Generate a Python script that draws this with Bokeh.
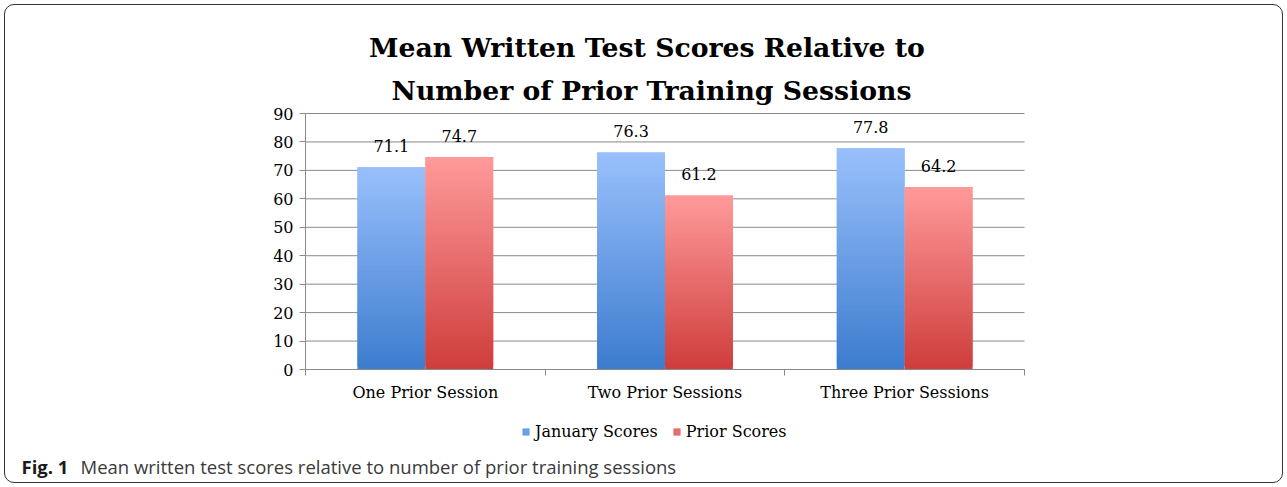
import numpy as np
from bokeh.plotting import figure
from bokeh.models import Range1d, FixedTicker, Label, Legend, LegendItem
from bokeh.core.properties import value
from bokeh.embed import file_html
from bokeh.resources import INLINE

# ---- data ----
categories = ["One Prior Session", "Two Prior Sessions", "Three Prior Sessions"]
january = [71.1, 76.3, 77.8]
prior = [74.7, 61.2, 64.2]
series_names = ["January Scores", "Prior Scores"]
y_ticks = [0, 10, 20, 30, 40, 50, 60, 70, 80, 90]
title_lines = ["Mean Written Test  Scores Relative to", "Number of Prior Training Sessions"]
caption_bold = "Fig. 1"
caption_text = "Mean written test scores relative to number of prior training sessions"

# ---- style / layout (pixels) ----
SERIF = "DejaVu Serif"
SANS = "Open Sans"
W, H = 1287, 487
PX_L, PX_R, PX_T, PX_B = 305, 1024, 113, 369     # plot area in canvas pixels
BLUE_TOP, BLUE_BOT = (153, 192, 252), (60, 124, 206)
RED_TOP, RED_BOT = (255, 154, 154), (206, 61, 59)
GRID = "#8a8a8a"

n = len(categories)
Y0, Y1 = y_ticks[0], y_ticks[-1]
sx_ = (PX_R - PX_L) / n
sy_ = (PX_B - PX_T) / (Y1 - Y0)
x_range = Range1d(-PX_L / sx_, n + (W - PX_R) / sx_)
y_range = Range1d(Y0 - (H - PX_B) / sy_, Y1 + PX_T / sy_)

p = figure(width=W, height=H, output_backend="svg", toolbar_location=None,
           x_range=x_range, y_range=y_range,
           min_border_left=0, min_border_right=0, min_border_top=0, min_border_bottom=0,
           styles={"outline": "1.5px solid #333333", "outline-offset": "-5px",
                   "border-radius": "14px"})
p.title.visible = False
p.outline_line_color = None
p.background_fill_color = None
p.border_fill_color = None
p.xgrid.visible = False
p.ygrid.visible = False

# horizontal grid lines across the plot area only
p.segment(x0=[0] * len(y_ticks), x1=[n] * len(y_ticks), y0=y_ticks, y1=y_ticks,
          line_color=GRID, line_width=1)

# y axis pinned at x = 0
p.yaxis.fixed_location = 0
p.yaxis.bounds = (Y0, Y1)
p.yaxis.ticker = FixedTicker(ticks=y_ticks)
p.yaxis.axis_line_color = GRID
p.yaxis.major_tick_line_color = GRID
p.yaxis.major_tick_out = 6
p.yaxis.major_tick_in = 0
p.yaxis.minor_tick_line_color = None
p.yaxis.major_label_standoff = 6
p.yaxis.major_label_text_font = SERIF
p.yaxis.major_label_text_font_size = "16px"
p.yaxis.major_label_text_color = "black"

# x axis pinned at y = 0: labels at centers, ticks at category boundaries
centers = [i + 0.5 for i in range(n)]
bounds = list(range(n + 1))
p.xaxis.fixed_location = 0
p.xaxis.bounds = (0, n)
p.xaxis.ticker = FixedTicker(ticks=centers, minor_ticks=bounds)
p.xaxis.major_label_overrides = {c: lab for c, lab in zip(centers, categories)}
p.xaxis.axis_line_color = GRID
p.xaxis.major_tick_line_color = None
p.xaxis.major_tick_out = 0
p.xaxis.minor_tick_line_color = GRID
p.xaxis.minor_tick_out = 6
p.xaxis.minor_tick_in = 0
p.xaxis.major_label_standoff = 7
p.xaxis.major_label_text_font = SERIF
p.xaxis.major_label_text_font_size = "16px"
p.xaxis.major_label_text_color = "black"

# gradient bars built from overlapping slices
BAR_W = 0.283
OFF = 0.1417
NS = 60

def hexc(c):
    return "#%02x%02x%02x" % tuple(int(round(v)) for v in c)

def gradient_bars(vals, offset, top_c, bot_c):
    L, R, B, T, C = [], [], [], [], []
    for i, v in enumerate(vals):
        cx = centers[i] + offset
        for k in range(NS):
            f0, f1 = k / NS, min((k + 2) / NS, 1.0)
            L.append(cx - BAR_W / 2); R.append(cx + BAR_W / 2)
            B.append(v * f0); T.append(v * f1)
            fm = (k + 0.5) / NS
            C.append(hexc([bot_c[j] + (top_c[j] - bot_c[j]) * fm for j in range(3)]))
    return p.quad(left=L, right=R, bottom=B, top=T, fill_color=C, line_color=None)

r_jan = gradient_bars(january, -OFF, BLUE_TOP, BLUE_BOT)
r_pri = gradient_bars(prior, OFF, RED_TOP, RED_BOT)

# data labels
for vals, offset in ((january, -OFF), (prior, OFF)):
    p.text(x=[c + offset for c in centers], y=vals, text=[f"{v:.1f}" for v in vals],
           text_align="center", text_baseline="middle", y_offset=-21,
           text_font=value(SERIF), text_font_size="16px", text_color="black")

# screen-unit helpers (canvas pixels from top-left -> frame screen units)
def sx(px):
    return px

def sy(py):
    return H - py

# title
for line, base in zip(title_lines, (47, 90)):
    p.add_layout(Label(x=sx(651), y=sy(base), x_units="screen", y_units="screen", text=line,
                       text_align="center", text_baseline="alphabetic", text_font=SERIF,
                       text_font_style="bold", text_font_size="26.7px", text_color="black"))

# series legend
legend = Legend(items=[LegendItem(label=series_names[0], renderers=[r_jan], index=NS // 2),
                       LegendItem(label=series_names[1], renderers=[r_pri], index=NS // 2)],
                orientation="horizontal", location=(sx(521), sy(441)),
                glyph_width=9, glyph_height=9, label_height=20,
                label_standoff=5, spacing=14, padding=0, margin=0,
                label_text_font=SERIF, label_text_font_size="16px", label_text_color="black",
                border_line_color=None, background_fill_alpha=0)
p.add_layout(legend)

# caption
p.add_layout(Label(x=sx(21), y=sy(466), x_units="screen", y_units="screen", text=caption_bold,
                   text_align="left", text_baseline="middle", text_font=SANS,
                   text_font_style="bold", text_font_size="18.5px", text_color="#1a1a1a"))
p.add_layout(Label(x=sx(80), y=sy(466), x_units="screen", y_units="screen", text=caption_text,
                   text_align="left", text_baseline="middle", text_font=SANS,
                   text_font_size="18.5px", text_color="#3a3a3a"))

open("out.html", "w").write(file_html(p, INLINE))
